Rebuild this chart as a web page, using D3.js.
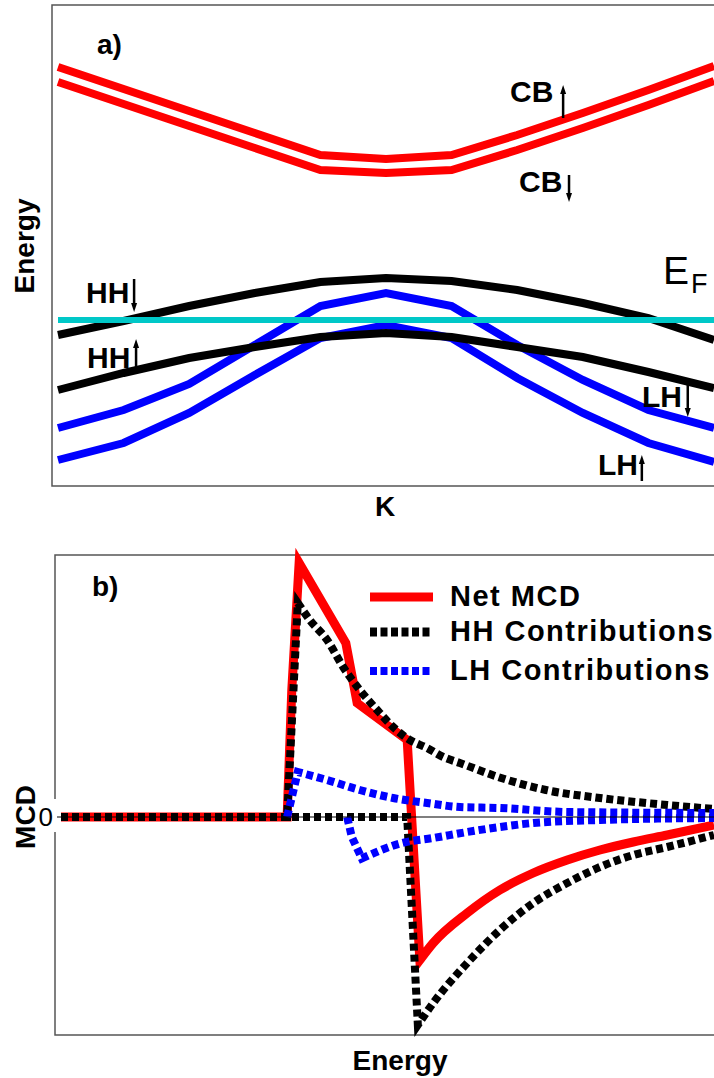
<!DOCTYPE html>
<html>
<head>
<meta charset="utf-8">
<script src="https://cdn.jsdelivr.net/npm/d3@7"></script>
<style>
    body { margin: 0; background: #fff; }
    text { font-family: "Liberation Sans", Arial, sans-serif; }
</style>
</head>
<body>
<script>
// ---- panel a: band structure (energy in arbitrary units) ----
const kPoints = [-5, -4, -3, -2, -1, 0, 1, 2, 3, 4, 5];
const cbUp   = [419, 397, 375, 353, 331, 327, 331, 351, 373, 396, 420];
const cbDown = [404, 382, 360, 338, 316, 313, 316, 336, 358, 381, 405];
const hhDown = [151, 165, 180, 193, 204, 208, 205, 196, 183, 168, 146];
const hhUp   = [96, 113, 128, 139, 149, 153, 149, 139, 129, 114, 98];
const lhDown = [58, 76, 102, 141, 180, 193, 180, 141, 106, 76, 58];
const lhUp   = [26, 43, 73, 111, 148, 161, 148, 108, 73, 43, 24];
const fermiLevel = 166;

// spin arrows: k position, tail / tip energy
const spinArrows = [
    { k: 2.70, from: 368, to: 401 },   // CB up
    { k: 2.79, from: 311, to: 284 },   // CB down
    { k: -3.84, from: 207, to: 174 },  // HH down
    { k: -3.81, from: 119, to: 147 },  // HH up
    { k: 4.60, from: 101, to: 69 },    // LH down
    { k: 3.90, from: 5, to: 31 }       // LH up
];

// ---- panel b: MCD spectra ----
const netEnergy = [0.09, 3.48, 3.55, 3.66, 4.36, 4.53, 5.28, 5.47, 5.67, 6.18, 6.67, 7.17, 7.68, 8.17, 8.67, 9.18, 9.88];
const netMcd    = [0, 0, 0.508, 1.016, 0.696, 0.456, 0.308, -0.572, -0.504, -0.384, -0.292, -0.224, -0.172, -0.132, -0.1, -0.072, -0.032];

const hhPosEnergy = [0.09, 3.48, 3.64, 3.82, 4.08, 4.32, 4.57, 4.83, 5.07, 5.32, 5.58, 5.82, 6.07, 6.69, 7.36, 8.17, 9.18, 9.88];
const hhPosMcd    = [0, 0, 0.856, 0.788, 0.708, 0.6, 0.508, 0.428, 0.36, 0.308, 0.276, 0.24, 0.216, 0.156, 0.108, 0.076, 0.048, 0.032];
const hhNegEnergy = [0.09, 5.28, 5.44, 5.67, 6.18, 6.67, 7.17, 7.68, 8.17, 8.67, 9.18, 9.88];
const hhNegMcd    = [0, 0, -0.832, -0.744, -0.584, -0.452, -0.344, -0.264, -0.2, -0.152, -0.12, -0.072];

const lhPosEnergy = [3.48, 3.64, 4.08, 4.57, 5.07, 5.58, 6.07, 6.67, 7.68, 9.88];
const lhPosMcd    = [0, 0.18, 0.148, 0.108, 0.076, 0.056, 0.04, 0.036, 0.02, 0.016];
const lhNegEnergy = [4.38, 4.45, 4.60, 5.20, 5.67, 6.18, 6.67, 7.17, 8.17, 9.88];
const lhNegMcd    = [0, -0.08, -0.166, -0.104, -0.084, -0.06, -0.04, -0.024, -0.012, -0.004];

const legendLabels = ["Net MCD", "HH Contributions", "LH Contributions"];

const width = 714;
const height = 1078;
const svg = d3.select('body').append('svg')
    .attr('width', width)
    .attr('height', height);

const xA = d3.scaleLinear().domain([-5, 5]).range([58, 714]);
const yA = d3.scaleLinear().domain([0, 481]).range([486, 5]);
const xB = d3.scaleLinear().domain([0, 10]).range([55, 722]);
const yB = d3.scaleLinear().domain([-0.872, 1.048]).range([1035, 555]);

const zip = (xs, ys) => xs.map((x, i) => [x, ys[i]]);

drawBands();
drawMcd();

function drawBands() {
    const g = svg.append('g');
    const line = d3.line().x(d => xA(d[0])).y(d => yA(d[1]));

    g.append('rect')
        .attr('x', 52).attr('y', 5)
        .attr('width', 690).attr('height', 481)
        .attr('fill', 'none')
        .attr('stroke', '#555')
        .attr('stroke-width', 1.5);

    const bands = [
        { v: cbUp, c: '#ff0000' },
        { v: cbDown, c: '#ff0000' },
        { v: lhDown, c: '#0000ff' },
        { v: lhUp, c: '#0000ff' },
        { v: hhDown, c: '#000' },
        { v: hhUp, c: '#000' }
    ];
    bands.forEach(b => {
        g.append('path')
            .attr('d', line(zip(kPoints, b.v)))
            .attr('fill', 'none')
            .attr('stroke', b.c)
            .attr('stroke-width', 8);
    });

    g.append('line')
        .attr('x1', xA(-5)).attr('x2', xA(5.2))
        .attr('y1', yA(fermiLevel)).attr('y2', yA(fermiLevel))
        .attr('stroke', '#00c8c8')
        .attr('stroke-width', 6);

    spinArrows.forEach(a => drawArrow(g, xA(a.k), yA(a.from), yA(a.to)));

    const labels = [
        { t: 'CB', x: 510, y: 102 },
        { t: 'CB', x: 519, y: 192 },
        { t: 'HH', x: 86, y: 303 },
        { t: 'HH', x: 87, y: 368 },
        { t: 'LH', x: 642, y: 407 },
        { t: 'LH', x: 598, y: 475 }
    ];
    labels.forEach(l => {
        g.append('text')
            .attr('x', l.x).attr('y', l.y)
            .attr('font-size', '30px')
            .attr('font-weight', 'bold')
            .text(l.t);
    });

    const ef = g.append('text')
        .attr('x', 663).attr('y', 284)
        .attr('font-size', '39px');
    ef.append('tspan').text('E');
    ef.append('tspan').attr('dy', 9).attr('dx', 2).attr('font-size', '27px').text('F');

    g.append('text')
        .attr('x', 97).attr('y', 54)
        .attr('font-size', '28px')
        .attr('font-weight', 'bold')
        .text('a)');

    g.append('text')
        .attr('transform', 'translate(34,246) rotate(-90)')
        .attr('text-anchor', 'middle')
        .attr('font-size', '28px')
        .attr('font-weight', 'bold')
        .text('Energy');

    g.append('text')
        .attr('x', 385).attr('y', 516)
        .attr('text-anchor', 'middle')
        .attr('font-size', '28px')
        .attr('font-weight', 'bold')
        .text('K');
}

function drawArrow(g, x, y0, y1) {
    const dir = Math.sign(y1 - y0);
    g.append('line')
        .attr('x1', x).attr('y1', y0)
        .attr('x2', x).attr('y2', y1 - dir * 6)
        .attr('stroke', '#000')
        .attr('stroke-width', 2.5);
    g.append('path')
        .attr('d', `M${x - 3},${y1 - dir * 9}L${x + 3},${y1 - dir * 9}L${x},${y1}Z`)
        .attr('fill', '#000');
}

// sharp part drawn straight up to the extremum, the tail after it smooth
function drawSeries(g, xs, ys, split, color, w, dash) {
    const data = zip(xs, ys);
    const straight = d3.line().x(d => xB(d[0])).y(d => yB(d[1]));
    const smooth = d3.line().x(d => xB(d[0])).y(d => yB(d[1])).curve(d3.curveMonotoneX);
    const d = straight(data.slice(0, split + 1)) + smooth(data.slice(split)).replace(/^M[^A-Z]*/, '');
    g.append('path')
        .attr('d', d)
        .attr('fill', 'none')
        .attr('stroke', color)
        .attr('stroke-width', w)
        .attr('stroke-dasharray', dash);
}

function drawMcd() {
    const g = svg.append('g');

    g.append('rect')
        .attr('x', 55).attr('y', 555)
        .attr('width', 690).attr('height', 480)
        .attr('fill', 'none')
        .attr('stroke', '#555')
        .attr('stroke-width', 1.5);

    // gap in the frame behind the "0" tick label
    g.append('rect')
        .attr('x', 36).attr('y', 799)
        .attr('width', 21).attr('height', 33)
        .attr('fill', '#fff');

    g.append('text')
        .attr('x', 53).attr('y', yB(0) + 9)
        .attr('text-anchor', 'end')
        .attr('font-size', '26px')
        .text('0');

    drawSeries(g, netEnergy, netMcd, 7, '#ff0000', 9, null);
    drawSeries(g, hhPosEnergy, hhPosMcd, 2, '#000', 8, '7,4');
    drawSeries(g, hhNegEnergy, hhNegMcd, 2, '#000', 8, '7,4');
    drawSeries(g, lhPosEnergy, lhPosMcd, 1, '#0000ff', 8, '7,4');
    drawSeries(g, lhNegEnergy, lhNegMcd, 2, '#0000ff', 8, '7,4');

    g.append('line')
        .attr('x1', xB(0.03)).attr('x2', xB(10))
        .attr('y1', yB(0)).attr('y2', yB(0))
        .attr('stroke', '#000')
        .attr('stroke-width', 1.2);

    // legend
    const styles = [
        { c: '#ff0000', dash: null, w: 9 },
        { c: '#000', dash: '7,3.5', w: 9 },
        { c: '#0000ff', dash: '7,3.5', w: 8 }
    ];
    const legendY = [597, 632, 671];
    legendLabels.forEach((label, i) => {
        g.append('line')
            .attr('x1', 370).attr('x2', 433)
            .attr('y1', legendY[i]).attr('y2', legendY[i])
            .attr('stroke', styles[i].c)
            .attr('stroke-width', styles[i].w)
            .attr('stroke-dasharray', styles[i].dash);
        g.append('text')
            .attr('x', 450).attr('y', legendY[i] + 9)
            .attr('font-size', '29px')
            .attr('font-weight', 'bold')
            .attr('letter-spacing', '1.5px')
            .text(label);
    });

    g.append('text')
        .attr('x', 92).attr('y', 596)
        .attr('font-size', '28px')
        .attr('font-weight', 'bold')
        .text('b)');

    g.append('text')
        .attr('transform', `translate(35,${yB(0)}) rotate(-90)`)
        .attr('text-anchor', 'middle')
        .attr('font-size', '28px')
        .attr('font-weight', 'bold')
        .text('MCD');

    g.append('text')
        .attr('x', 400).attr('y', 1070)
        .attr('text-anchor', 'middle')
        .attr('font-size', '28px')
        .attr('font-weight', 'bold')
        .text('Energy');
}
</script>
</body>
</html>
